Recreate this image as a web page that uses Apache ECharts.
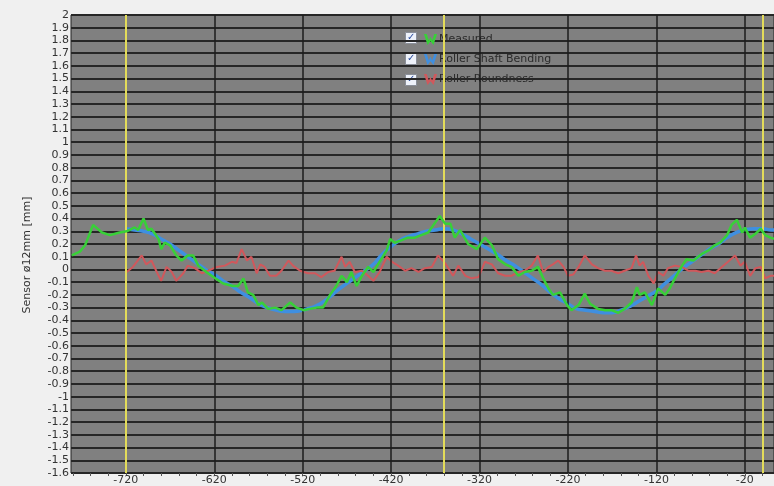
<!DOCTYPE html>
<html>
<head>
<meta charset="utf-8">
<script src="https://cdn.jsdelivr.net/npm/echarts@6/dist/echarts.min.js"></script>
<style>
  html, body { margin: 0; padding: 0; background: #f0f0f0; }
  #chartData { width: 774px; height: 486px; }
</style>
</head>
<body>
<div id="chartData"></div>
<script>
// x axis labels / grid positions
var xLabels = [-720, -620, -520, -420, -320, -220, -120, -20];
var xMinorTicks = [-780, -760, -740, -720, -700, -680, -660, -640, -620, -600, -580, -560, -540, -520, -500, -480, -460, -440, -420, -400, -380, -360, -340, -320, -300, -280, -260, -240, -220, -200, -180, -160, -140, -120, -100, -80, -60, -40, -20, 0];
var revMarks = [-720, -360, 0];

var legendNames = ['Measured', 'Roller Shaft Bending', 'Roller Roundness'];

// Measured
var measured = [[-781,0.11],[-772,0.14],[-766,0.19],[-757,0.35],[-747,0.29],[-738,0.27],[-727,0.29],[-719,0.30],[-710,0.33],[-706,0.31],[-700,0.40],[-695,0.31],[-691,0.32],[-683,0.24],[-680,0.16],[-676,0.21],[-670,0.19],[-663,0.11],[-657,0.07],[-650,0.11],[-644,0.11],[-638,0.03],[-629,-0.02],[-621,-0.06],[-610,-0.11],[-599,-0.13],[-593,-0.13],[-587,-0.07],[-582,-0.18],[-576,-0.20],[-570,-0.28],[-566,-0.26],[-559,-0.31],[-551,-0.30],[-544,-0.32],[-534,-0.26],[-527,-0.30],[-519,-0.32],[-512,-0.31],[-504,-0.30],[-497,-0.30],[-489,-0.20],[-482,-0.13],[-476,-0.05],[-470,-0.10],[-465,-0.02],[-459,-0.13],[-453,-0.05],[-446,0.02],[-440,-0.02],[-433,0.06],[-425,0.15],[-421,0.24],[-416,0.21],[-408,0.23],[-401,0.25],[-393,0.25],[-386,0.27],[-378,0.29],[-370,0.37],[-365,0.42],[-359,0.36],[-353,0.36],[-348,0.25],[-342,0.31],[-333,0.20],[-323,0.16],[-314,0.25],[-306,0.19],[-299,0.08],[-291,0.04],[-284,0.02],[-276,-0.05],[-269,-0.02],[-261,-0.01],[-254,0.02],[-248,-0.07],[-242,-0.15],[-237,-0.20],[-229,-0.18],[-221,-0.28],[-216,-0.32],[-208,-0.28],[-201,-0.19],[-195,-0.27],[-186,-0.31],[-178,-0.32],[-171,-0.32],[-163,-0.34],[-156,-0.31],[-148,-0.26],[-142,-0.14],[-139,-0.20],[-133,-0.18],[-125,-0.28],[-118,-0.15],[-110,-0.20],[-105,-0.15],[-99,-0.07],[-91,0.03],[-86,0.08],[-78,0.07],[-69,0.12],[-61,0.15],[-54,0.19],[-48,0.21],[-40,0.27],[-35,0.35],[-29,0.39],[-23,0.29],[-20,0.33],[-14,0.25],[-8,0.28],[-2,0.32],[3,0.27],[9,0.25],[13,0.24]];

// Roller Shaft Bending
var bending = [[-720,0.32],[-710,0.31],[-700,0.30],[-690,0.28],[-680,0.24],[-670,0.20],[-660,0.15],[-650,0.10],[-640,0.05],[-630,0.00],[-620,-0.04],[-610,-0.09],[-600,-0.13],[-590,-0.18],[-580,-0.22],[-570,-0.27],[-560,-0.30],[-550,-0.32],[-540,-0.33],[-530,-0.33],[-520,-0.32],[-510,-0.30],[-500,-0.27],[-490,-0.22],[-480,-0.16],[-470,-0.11],[-460,-0.06],[-450,-0.01],[-440,0.04],[-430,0.12],[-420,0.18],[-410,0.23],[-400,0.26],[-390,0.28],[-380,0.30],[-370,0.31],[-360,0.32],[-350,0.31],[-340,0.28],[-330,0.24],[-320,0.20],[-310,0.16],[-300,0.12],[-290,0.07],[-280,0.03],[-270,-0.02],[-260,-0.07],[-250,-0.12],[-240,-0.18],[-230,-0.23],[-220,-0.27],[-210,-0.31],[-200,-0.32],[-190,-0.33],[-180,-0.34],[-170,-0.34],[-160,-0.32],[-150,-0.29],[-140,-0.25],[-130,-0.21],[-120,-0.17],[-110,-0.11],[-100,-0.05],[-90,0.01],[-80,0.06],[-70,0.11],[-60,0.16],[-50,0.20],[-40,0.25],[-30,0.29],[-20,0.31],[-10,0.32],[0,0.32],[10,0.31],[13,0.31]];

// Roller Roundness
var roundness = [[-719,-0.02],[-712,0.02],[-702,0.11],[-697,0.04],[-691,0.07],[-685,-0.02],[-680,-0.09],[-674,0.02],[-668,-0.02],[-663,-0.09],[-655,-0.03],[-650,0.03],[-642,0.01],[-634,-0.03],[-627,-0.01],[-617,0.02],[-608,0.03],[-600,0.06],[-595,0.05],[-589,0.16],[-583,0.07],[-578,0.10],[-572,-0.03],[-568,0.04],[-563,0.02],[-557,-0.05],[-550,-0.05],[-544,-0.01],[-536,0.07],[-531,0.03],[-523,-0.01],[-514,-0.03],[-506,-0.03],[-499,-0.06],[-491,-0.02],[-484,-0.01],[-476,0.10],[-472,0.02],[-467,0.06],[-461,-0.02],[-453,-0.01],[-446,-0.05],[-440,-0.09],[-433,-0.02],[-425,0.10],[-419,0.06],[-412,0.03],[-404,-0.01],[-397,0.01],[-389,-0.02],[-382,0.01],[-374,0.02],[-367,0.11],[-359,0.05],[-350,-0.05],[-344,0.03],[-336,-0.05],[-329,-0.07],[-321,-0.06],[-314,0.06],[-306,0.04],[-299,-0.03],[-291,-0.05],[-284,-0.05],[-276,-0.02],[-269,-0.01],[-261,0.03],[-254,0.11],[-248,-0.02],[-242,0.02],[-237,0.04],[-231,0.07],[-225,0.02],[-220,-0.05],[-214,-0.04],[-208,0.02],[-201,0.11],[-193,0.04],[-186,0.01],[-178,-0.01],[-171,-0.01],[-163,-0.03],[-156,-0.01],[-148,0.01],[-143,0.11],[-139,0.03],[-135,0.06],[-129,-0.05],[-123,-0.11],[-118,-0.02],[-112,-0.05],[-107,0.01],[-99,0.03],[-91,0.02],[-84,-0.01],[-76,-0.01],[-69,-0.02],[-61,-0.01],[-54,-0.03],[-46,0.02],[-39,0.06],[-31,0.11],[-25,0.03],[-20,0.06],[-14,-0.05],[-8,0.01],[-2,0.02],[3,-0.07],[9,-0.05],[13,-0.05]];

var colGreen = '#38d038';
var colBlue  = '#3f8fe0';
var colRed   = '#d0585c';

// zigzag legend glyph
var zigIcon = 'path://M0,0 L2.5,0 L4.5,6 L6,2.5 L7.5,6 L9.5,0 L12,0 L8.8,10 L6,6.5 L3.2,10 Z';

var font = 'DejaVu Sans';

var myChart = echarts.init(document.getElementById('chartData'));

// vertical grid lines + revolution markers
var vLines = [];
for (var i = 0; i < xLabels.length; i++) {
    vLines.push({ xAxis: xLabels[i], lineStyle: { color: '#1c1c1c', width: 1.5, type: 'solid' } });
}
for (var j = 0; j < revMarks.length; j++) {
    vLines.push({ xAxis: revMarks[j], lineStyle: { color: '#e3dc5a', width: 2, type: 'solid' } });
}

var checkboxes = [];
for (var k = 0; k < 3; k++) {
    checkboxes.push({
        type: 'group',
        left: 405,
        top: 32 + k * 21,
        children: [
            { type: 'rect', shape: { x: 0, y: 0, width: 11, height: 11 },
              style: { fill: '#eef2fa', stroke: '#8a8f99', lineWidth: 1 } },
            { type: 'text', x: 1.5, y: -0.5,
              style: { text: '\u2713', fill: '#2d4fa0', font: 'bold 10px ' + font } }
        ]
    });
}

var option = {
    backgroundColor: '#f0f0f0',
    animation: false,
    grid: {
        left: 71, right: 0, top: 15, bottom: 13,
        show: true,
        backgroundColor: '#808080',
        borderColor: '#222',
        borderWidth: 1
    },
    legend: {
        orient: 'vertical',
        left: 419,
        top: 29,
        itemWidth: 13,
        itemHeight: 11,
        itemGap: 9,
        selectedMode: false,
        textStyle: { fontFamily: font, fontSize: 11, color: '#2a2a2a', padding: [0, 0, 0, -3] },
        data: [
            { name: legendNames[0], icon: zigIcon, itemStyle: { color: colGreen } },
            { name: legendNames[1], icon: zigIcon, itemStyle: { color: colBlue } },
            { name: legendNames[2], icon: zigIcon, itemStyle: { color: colRed } }
        ]
    },
    graphic: checkboxes,
    xAxis: {
        type: 'value',
        min: -782,
        max: 13,
        axisLine: { show: false, onZero: false },
        splitLine: { show: false },
        axisTick: {
            show: true,
            customValues: xMinorTicks,
            length: 3,
            lineStyle: { color: '#555' }
        },
        axisLabel: {
            customValues: xLabels,
            fontFamily: font,
            fontSize: 11,
            color: '#333',
            margin: 2
        }
    },
    yAxis: {
        type: 'value',
        min: -1.6,
        max: 2,
        interval: 0.1,
        name: 'Sensor ø12mm [mm]',
        nameLocation: 'middle',
        nameGap: 38,
        nameTextStyle: { fontFamily: font, fontSize: 11, color: '#333', padding: [0, 22, 0, 0] },
        axisLine: { show: false },
        axisTick: { show: true, length: 3, lineStyle: { color: '#333' } },
        axisLabel: { fontFamily: font, fontSize: 11, color: '#333', margin: 2 },
        splitLine: { show: true, lineStyle: { color: '#262626', width: 2 } }
    },
    series: [
        {
            name: legendNames[0],
            type: 'line',
            data: measured,
            showSymbol: false,
            z: 5,
            lineStyle: { color: colGreen, width: 2.5 },
            itemStyle: { color: colGreen }
        },
        {
            name: legendNames[1],
            type: 'line',
            data: bending,
            showSymbol: false,
            smooth: true,
            z: 3,
            lineStyle: { color: colBlue, width: 3.5 },
            itemStyle: { color: colBlue }
        },
        {
            name: legendNames[2],
            type: 'line',
            data: roundness,
            showSymbol: false,
            z: 4,
            lineStyle: { color: colRed, width: 2 },
            itemStyle: { color: colRed }
        },
        {
            name: 'grid',
            type: 'line',
            data: [],
            z: 1,
            silent: true,
            markLine: {
                silent: true,
                symbol: 'none',
                animation: false,
                label: { show: false },
                data: vLines
            }
        }
    ]
};

myChart.setOption(option);
</script>
</body>
</html>
